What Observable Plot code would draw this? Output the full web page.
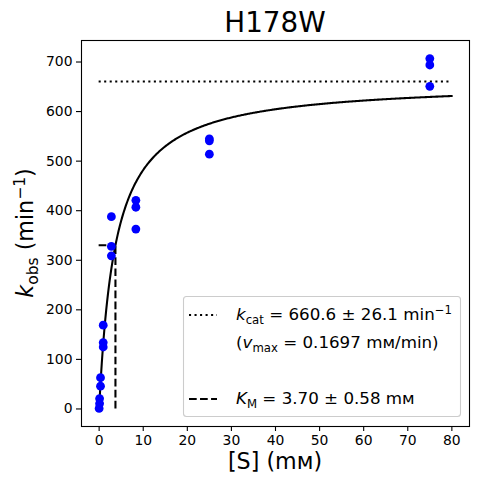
<!DOCTYPE html>
<html>
<head>
<meta charset="utf-8">
<script src="https://cdn.jsdelivr.net/npm/d3@7"></script>
<script src="https://cdn.jsdelivr.net/npm/@observablehq/plot@0.6"></script>
<style>
  html, body { margin: 0; padding: 0; background: #fff; }
  #chart svg { display: block; }
</style>
</head>
<body>
<div id="chart"></div>
<script>
// ---- data ----
const substrate = [0, 0.103, 0.103, 0.309, 0.309, 0.926, 0.926, 0.926, 2.78, 2.78, 2.78, 8.33, 8.33, 8.33, 25, 25, 25, 75, 75, 75];
const kobs      = [1, 11, 21, 46, 63, 125, 134, 169, 309, 328, 388, 363, 407, 421, 514, 541, 545, 651, 694, 707];
const kcat = 660.6;
const KM = 3.70;
const xTicks = [0, 10, 20, 30, 40, 50, 60, 70, 80];
const yTicks = [0, 100, 200, 300, 400, 500, 600, 700];
const fitRange = [0, 80];

const points = substrate.map((s, i) => ({s, k: kobs[i]}));
const fitX = d3.range(0, 401).map(i => fitRange[0] + (fitRange[1] - fitRange[0]) * i / 400);
const fit = fitX.map(s => ({s, k: kcat * s / (KM + s)}));

const font = "DejaVu Sans, Liberation Sans, sans-serif";
const lw = 2.08;

const chart = Plot.plot({
  width: 477,
  height: 484,
  marginLeft: 81,
  marginRight: 8,
  marginTop: 40,
  marginBottom: 58,
  style: {fontFamily: font, fontSize: "13.9px", color: "#000", background: "#fff"},
  x: {domain: [-4, 84], label: null},
  y: {domain: [-35.4, 743.4], label: null},
  marks: [
    Plot.frame({stroke: "#000", strokeWidth: 1.1}),
    Plot.axisX({ticks: xTicks, tickSize: 5, tickPadding: 4, label: null, fontSize: 13.9, strokeWidth: 1.1}),
    Plot.axisY({ticks: yTicks, tickSize: 5, tickPadding: 4, label: null, fontSize: 13.9, strokeWidth: 1.1}),
    Plot.line(fit, {x: "s", y: "k", stroke: "#000", strokeWidth: lw}),
    Plot.ruleY([kcat], {x1: fitRange[0], x2: fitRange[1], stroke: "#000", strokeWidth: lw, strokeDasharray: "2.08,3.44"}),
    Plot.ruleX([KM], {y1: 0, y2: kcat / 2, stroke: "#000", strokeWidth: lw, strokeDasharray: "7.7,3.33"}),
    Plot.ruleY([kcat / 2], {x1: 0, x2: KM, stroke: "#000", strokeWidth: lw, strokeDasharray: "7.7,3.33"}),
    Plot.dot(points, {x: "s", y: "k", r: 4.4, fill: "#0000ff", stroke: "none"})
  ]
});
document.getElementById("chart").appendChild(chart);

const svg = d3.select(chart);

// rich text helper: parts = [{t, sub, sup, it}]
function rich(g, parts, size, anchor) {
  const text = g.append("text").attr("font-family", font).attr("font-size", size)
    .attr("fill", "#000").attr("text-anchor", anchor || "start");
  let shift = 0;
  parts.forEach(p => {
    const target = p.sub ? size * 0.22 : p.sup ? -size * 0.38 : 0;
    const ts = text.append("tspan").text(p.t)
      .attr("dy", target - shift)
      .attr("font-size", (p.sub || p.sup) ? size * 0.7 : size);
    if (p.it) ts.attr("font-style", "italic");
    shift = target;
  });
  return text;
}

// title
svg.append("text").text("H178W")
  .attr("x", 275).attr("y", 32)
  .attr("text-anchor", "middle")
  .attr("font-family", font).attr("font-size", 27.8).attr("fill", "#000");

// x label
rich(svg.append("g"), [{t: "[S] (mм)"}], 22.2, "middle")
  .attr("x", 275).attr("y", 469);

// y label
rich(svg.append("g").attr("transform", "translate(33,233) rotate(-90)"),
  [{t: "k", it: true}, {t: "obs", sub: true}, {t: " (min"}, {t: "−1", sup: true}, {t: ")"}], 22.2, "middle")
  .attr("x", 0).attr("y", 0);

// legend
const lg = svg.append("g");
lg.append("rect").attr("x", 183.5).attr("y", 296.5).attr("width", 277).attr("height", 120)
  .attr("rx", 3).attr("fill", "#fff").attr("fill-opacity", 0.8)
  .attr("stroke", "#cccccc").attr("stroke-width", 1.1);
lg.append("line").attr("x1", 189).attr("x2", 217).attr("y1", 315).attr("y2", 315)
  .attr("stroke", "#000").attr("stroke-width", lw).attr("stroke-dasharray", "2.08,3.44");
lg.append("line").attr("x1", 189).attr("x2", 217).attr("y1", 399).attr("y2", 399)
  .attr("stroke", "#000").attr("stroke-width", lw).attr("stroke-dasharray", "7.7,3.33");
const ls = 16.7;
rich(lg, [{t: "k", it: true}, {t: "cat", sub: true}, {t: " = 660.6 ± 26.1 min"}, {t: "−1", sup: true}], ls)
  .attr("x", 236).attr("y", 320);
rich(lg, [{t: "("}, {t: "v", it: true}, {t: "max", sub: true}, {t: " = 0.1697 mм/min)"}], ls)
  .attr("x", 236).attr("y", 348);
rich(lg, [{t: "K", it: true}, {t: "M", sub: true}, {t: " = 3.70 ± 0.58 mм"}], ls)
  .attr("x", 236).attr("y", 404);
</script>
</body>
</html>
